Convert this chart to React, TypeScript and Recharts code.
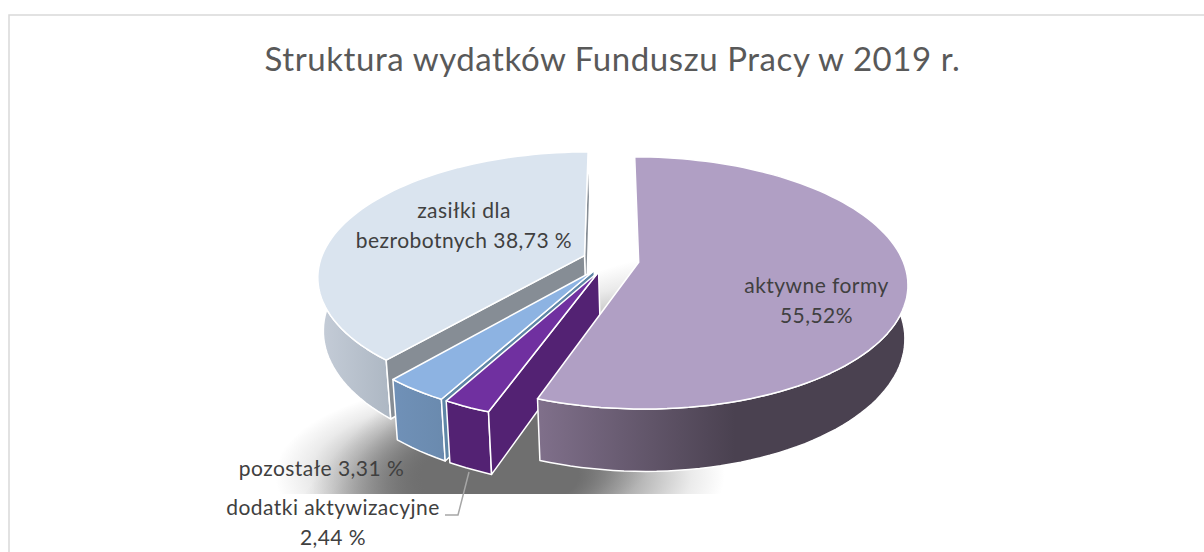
import React from 'react';
import { PieChart, Pie } from 'recharts';

const categories = ['zasiłki', 'pozostałe', 'dodatki', 'aktywne'];
const shares = [38.73, 3.31, 2.44, 55.52];
const labelLines = [
  ['zasiłki dla', 'bezrobotnych 38,73 %'],
  ['pozostałe 3,31 %'],
  ['dodatki aktywizacyjne', '2,44 %'],
  ['aktywne formy', '55,52%'],
];
const title = 'Struktura wydatków Funduszu Pracy w 2019 r.';

const topColors = ['#dae4ef', '#8db3e2', '#7030a0', '#b09fc4'];
const rimFills = ['url(#rimBlue)', 'url(#rimSky)', '#532273', 'url(#rimPurple)'];
const sideColors = ['#868d95', '#5f86a6', '#532273', '#4a4150'];
const explode = [0.1036, 0.1036, 0.1036, 0.11];
const labelAnchors = [
  { x: 464, y: 218 },
  { x: 321.5, y: 476 },
  { x: 333, y: 515 },
  { x: 816.5, y: 293 },
];

const data = categories.map((name, i) => ({ name, value: shares[i] }));

const FONT = 'Lato, "Open Sans", sans-serif';
const PERSPECTIVE = 0.163;
const TILT = 0.462; // ellipse squash
const DEPTH = 52;
const LEAN = 0.0145;
const LEAN_SHIFT = 90; // walls converge right of the pie centre
const RAD = Math.PI / 180;

// puts a point of the pie plane on screen, v runs towards the viewer
const project = (cx: number, cy: number, r: number, u: number, v: number, z = 0) => {
  const s = 1 / (1 - PERSPECTIVE * v);
  const x = cx + r * u * s;
  return [x + (cx + LEAN_SHIFT - x) * LEAN * z, cy + r * TILT * v * s + DEPTH * z * s];
};

const toPath = (pts: number[][]) =>
  'M' + pts.map((p) => p[0].toFixed(1) + ' ' + p[1].toFixed(1)).join('L') + 'Z';

const Slice3D = (props: any) => {
  const { cx, cy, outerRadius: r, startAngle, endAngle } = props;
  const idx = categories.indexOf(props.name ?? props.payload?.name);
  const mid = ((startAngle + endAngle) / 2) * RAD;
  const au = Math.cos(mid) * explode[idx];
  const av = -Math.sin(mid) * explode[idx];
  const n = Math.max(4, Math.ceil(Math.abs(endAngle - startAngle) / 2));
  const rim: number[][] = [];
  for (let i = 0; i <= n; i++) {
    const a = (startAngle + ((endAngle - startAngle) * i) / n) * RAD;
    rim.push([au + Math.cos(a), av - Math.sin(a)]);
  }
  const P = (q: number[], z = 0) => project(cx, cy, r, q[0], q[1], z);
  const apex = [au, av];
  const top = [P(apex), ...rim.map((q) => P(q))];
  const rimWall = [...rim.map((q) => P(q)), ...rim.slice().reverse().map((q) => P(q, 1))];

  // radial walls only where they face the camera
  const wall = (q: number[], sign: number) => {
    const dx = q[0] - au;
    const dy = q[1] - av;
    const nx = -dy * sign;
    const ny = dx * sign;
    const facing = (0 - au) * nx + (1 / PERSPECTIVE - av) * ny > 0;
    if (!facing) return null;
    return toPath([P(apex), P(q), P(q, 1), P(apex, 1)]);
  };
  const w1 = wall(rim[0], 1);
  const w2 = wall(rim[n], -1);

  return (
    <g stroke="#fff" strokeWidth={1.5} strokeLinejoin="round">
      <path d={toPath(rimWall)} fill={rimFills[idx]} />
      {w1 && <path d={w1} fill={sideColors[idx]} />}
      {w2 && <path d={w2} fill={sideColors[idx]} />}
      <path d={toPath(top)} fill={topColors[idx]} />
    </g>
  );
};

const renderLabel = (props: any) => {
  const idx = categories.indexOf(props.name ?? props.payload?.name);
  const at = labelAnchors[idx];
  return (
    <text
      key={idx}
      x={at.x}
      y={at.y}
      textAnchor="middle"
      fontFamily={FONT}
      fontSize={21}
      letterSpacing={0.45}
      fill="#404040"
      stroke="none"
    >
      {labelLines[idx].map((line, i) => (
        <tspan key={i} x={at.x} y={at.y + i * 30}>
          {line}
        </tspan>
      ))}
    </text>
  );
};

const shadowStops = [
  <stop key="a" offset="0.35" stopColor="#6f6f6f" stopOpacity={1} />,
  <stop key="b" offset="0.6" stopColor="#6f6f6f" stopOpacity={0.55} />,
  <stop key="c" offset="0.85" stopColor="#6f6f6f" stopOpacity={0.14} />,
  <stop key="d" offset="1" stopColor="#6f6f6f" stopOpacity={0} />,
];

export default function App() {
  return (
    <div style={{ position: 'absolute', left: 0, top: 0, width: 1204, height: 552, background: '#fff' }}>
      <PieChart width={1204} height={552} margin={{ top: 0, right: 0, bottom: 0, left: 0 }}>
        <defs>
          <radialGradient id="shadowLong" gradientUnits="userSpaceOnUse" cx={0} cy={0} r={1}
            gradientTransform="translate(510 445) rotate(-36) scale(285 112)">
            {shadowStops}
          </radialGradient>
          <radialGradient id="shadowFront" gradientUnits="userSpaceOnUse" cx={0} cy={0} r={1}
            gradientTransform="translate(500 475) scale(225 95)">
            {shadowStops}
          </radialGradient>
          <linearGradient id="rimPurple" gradientUnits="userSpaceOnUse" x1={537} y1={0} x2={735} y2={0}>
            <stop offset="0" stopColor="#80708b" />
            <stop offset="1" stopColor="#4a4150" />
          </linearGradient>
          <linearGradient id="rimBlue" gradientUnits="userSpaceOnUse" x1={325} y1={0} x2={390} y2={0}>
            <stop offset="0" stopColor="#c3cbd6" />
            <stop offset="1" stopColor="#adb7c3" />
          </linearGradient>
          <linearGradient id="rimSky" gradientUnits="userSpaceOnUse" x1={392} y1={0} x2={445} y2={0}>
            <stop offset="0" stopColor="#7091b8" />
            <stop offset="1" stopColor="#6a8aae" />
          </linearGradient>
        </defs>
        <rect x={9} y={15} width={1300} height={600} fill="#fff" stroke="#d9d9d9" strokeWidth={1.5} />
        <rect x={200} y={230} width={560} height={264} fill="url(#shadowLong)" />
        <rect x={200} y={230} width={560} height={264} fill="url(#shadowFront)" />
        <text x={612.5} y={71} textAnchor="middle" fontFamily={FONT} fontSize={33} letterSpacing={0.58} fill="#595959">
          {title}
        </text>
        <Pie
          data={data}
          dataKey="value"
          nameKey="name"
          cx={610}
          cy={260}
          innerRadius={0}
          outerRadius={264}
          startAngle={90}
          endAngle={450}
          paddingAngle={0}
          stroke="none"
          shape={Slice3D}
          label={renderLabel}
          labelLine={false}
          isAnimationActive={false}
        />
        <polyline points="469,472 458,515 445,515" fill="none" stroke="#a6a6a6" strokeWidth={1.5} />
      </PieChart>
    </div>
  );
}
